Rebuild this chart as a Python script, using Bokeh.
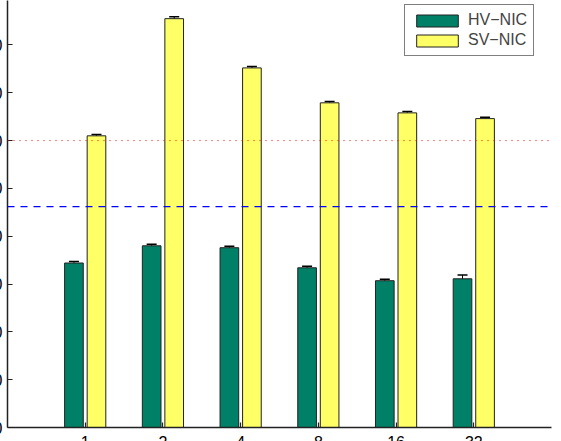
from bokeh.plotting import figure
from bokeh.models import ColumnDataSource, Whisker, Span, Legend, LegendItem, FixedTicker, TeeHead
from bokeh.embed import file_html
from bokeh.resources import INLINE

groups = ["1", "2", "4", "8", "16", "32"]
hv_nic = [344, 380, 376, 334, 307, 311]
sv_nic = [610, 855, 752, 679, 658, 646]
hv_err = [3, 3, 3, 3, 3, 8]
sv_err = [3, 4, 3, 3, 3, 3]
red_level = 600
blue_level = 462
y_ticks = [0, 100, 200, 300, 400, 500, 600, 700, 800]

pos = list(range(1, len(groups) + 1))
off = 0.145
bw = 0.24

hv_src = ColumnDataSource(dict(x=[v - off for v in pos], top=hv_nic,
                               upper=[a + b for a, b in zip(hv_nic, hv_err)],
                               lower=[a - b for a, b in zip(hv_nic, hv_err)]))
sv_src = ColumnDataSource(dict(x=[v + off for v in pos], top=sv_nic,
                               upper=[a + b for a, b in zip(sv_nic, sv_err)],
                               lower=[a - b for a, b in zip(sv_nic, sv_err)]))

p = figure(frame_width=544, frame_height=427, x_range=(0, 7), y_range=(0, 893),
           output_backend="svg", toolbar_location=None,
           min_border_top=0, min_border_right=10, min_border_left=0, min_border_bottom=0)
p.styles = {"margin-left": "-28px"}
p.outline_line_color = None
p.xgrid.visible = False
p.ygrid.visible = False
p.background_fill_color = "white"
p.border_fill_color = "white"

r1 = p.vbar(x="x", top="top", width=bw, source=hv_src, fill_color="#008066", line_color="#222222", line_width=1)
r2 = p.vbar(x="x", top="top", width=bw, source=sv_src, fill_color="#FFFF66", line_color="#222222", line_width=1)

for src in (hv_src, sv_src):
    w = Whisker(base="x", upper="upper", lower="lower", source=src,
                line_color="black", line_width=1,
                upper_head=TeeHead(size=10, line_color="black", line_width=1.5),
                lower_head=TeeHead(size=10, line_color="black", line_width=1.5))
    p.add_layout(w)

p.add_layout(Span(location=red_level, dimension="width", line_color="#FF0000", line_width=1, line_dash="1 5"))
p.add_layout(Span(location=blue_level, dimension="width", line_color="#0000FF", line_width=1.3, line_dash="7 6"))

for ax in (p.xaxis, p.yaxis):
    ax.axis_line_color = "#222222"
    ax.axis_line_width = 1.5
    ax.major_tick_line_color = "#222222"
    ax.major_tick_line_width = 1.2
    ax.major_tick_in = 5
    ax.major_tick_out = 0
    ax.minor_tick_line_color = None
    ax.major_label_text_font = "Liberation Sans"
    ax.major_label_text_font_size = "16px"
    ax.major_label_text_color = "black"
    ax.major_label_standoff = 8

p.yaxis.major_label_standoff = 5
p.xaxis.ticker = FixedTicker(ticks=pos)
p.xaxis.major_label_overrides = {v: g for v, g in zip(pos, groups)}
p.yaxis.ticker = FixedTicker(ticks=y_ticks)

legend = Legend(items=[LegendItem(label="HV\u2212NIC", renderers=[r1]),
                       LegendItem(label="SV\u2212NIC", renderers=[r2])],
                location=(397, 371), border_line_color="black", border_line_width=1,
                background_fill_color="white", background_fill_alpha=1,
                glyph_width=52, glyph_height=15, label_height=15, label_standoff=5,
                label_text_font="Liberation Sans", label_text_font_size="16px",
                spacing=2, padding=6, margin=0)
p.add_layout(legend)

open("out.html", "w").write(file_html(p, INLINE))
